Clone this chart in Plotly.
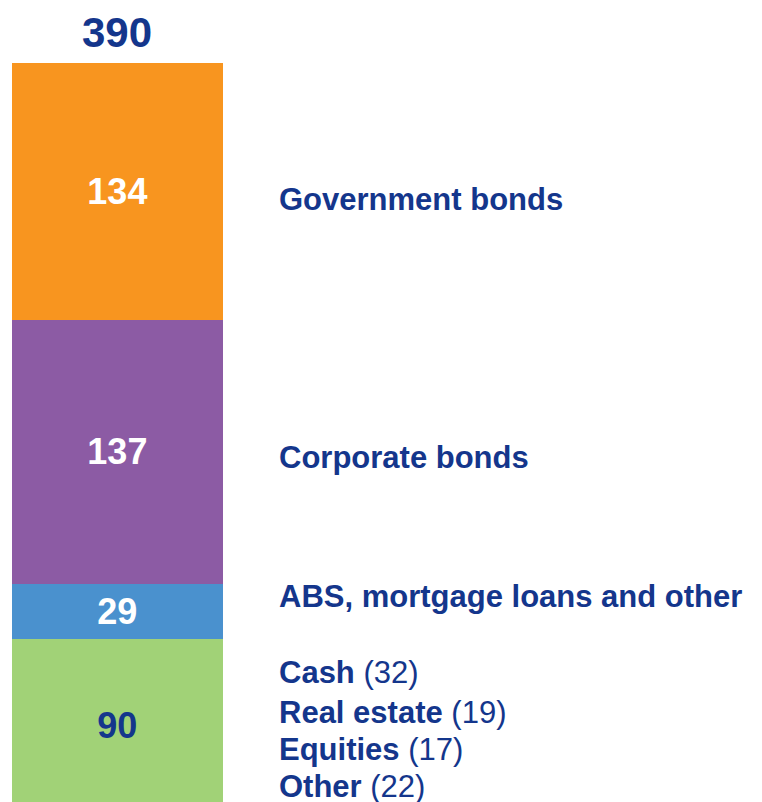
import plotly.graph_objects as go

# stacked bar segments, bottom to top
segments = ["Other assets", "ABS, mortgage loans and other", "Corporate bonds", "Government bonds"]
values = [90, 29, 137, 134]
colors = ["#A1D277", "#4A91CE", "#8C5BA4", "#F8951F"]
text_colors = ["#14368C", "#FFFFFF", "#FFFFFF", "#FFFFFF"]
total = 390

# right hand labels (top to bottom)
main_labels = ["Government bonds", "Corporate bonds", "ABS, mortgage loans and other"]
other_names = ["Cash", "Real estate", "Equities", "Other"]
other_values = [32, 19, 17, 22]

NAVY = "#14368C"
FONT = "Liberation Sans, Arial, sans-serif"
W, H = 762, 802
OFF = 8  # page body margin that shifts the figure

fig = go.Figure()
for name, v, c, tc in zip(segments, values, colors, text_colors):
    fig.add_trace(go.Bar(
        x=[0], y=[v], name=name, width=1,
        marker=dict(color=c, line=dict(width=0)),
        text=[f"<b>{v}</b>"], textposition="inside",
        insidetextanchor="middle", textangle=0,
        textfont=dict(color=tc, size=36, family=FONT),
        constraintext="none", hoverinfo="skip",
    ))

# total on top of the bar
fig.add_annotation(x=0, y=total, xref="x", yref="y", text=f"<b>{total}</b>",
                   showarrow=False, yanchor="bottom", yshift=5,
                   font=dict(size=42, color=NAVY, family=FONT))

# labels on the right, positioned in page pixels from the top
label_px = [199, 457, 596]
for lab, py in zip(main_labels, label_px):
    fig.add_annotation(x=(277 - OFF) / W, y=1 - (py - OFF) / H, xref="paper", yref="paper",
                       text=f"<b>{lab}</b>", showarrow=False,
                       xanchor="left", yanchor="middle",
                       font=dict(size=31, color=NAVY, family=FONT))

other_px = [672, 712, 749, 786]
for nm, v, py in zip(other_names, other_values, other_px):
    fig.add_annotation(x=(277 - OFF) / W, y=1 - (py - OFF) / H, xref="paper", yref="paper",
                       text=f"<b>{nm}</b> ({v})", showarrow=False,
                       xanchor="left", yanchor="middle",
                       font=dict(size=31, color=NAVY, family=FONT))

fig.update_layout(
    barmode="stack",
    width=W, height=H,
    margin=dict(l=0, r=0, t=0, b=0),
    plot_bgcolor="white", paper_bgcolor="white",
    showlegend=False,
    xaxis=dict(range=[-0.519, 3.097], visible=False, fixedrange=True),
    yaxis=dict(range=[1.15, 418.6], visible=False, fixedrange=True),
)

fig.write_html("out.html", config={"displayModeBar": False})
